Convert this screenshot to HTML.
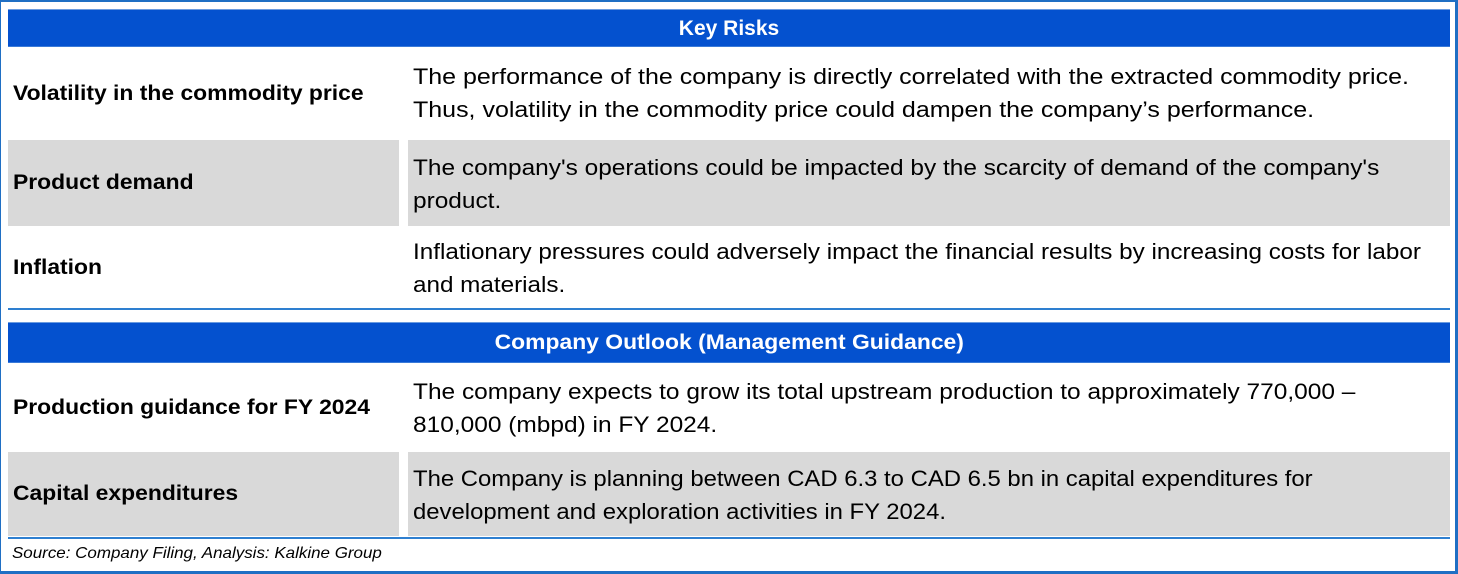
<!DOCTYPE html>
<html><head><meta charset="utf-8"><style>
body{margin:0;width:1458px;height:574px;background:#fff;position:relative;overflow:hidden;font-family:"Liberation Sans",Arial,sans-serif;color:#000}
div{position:absolute;box-sizing:border-box}
.hdr{left:8px;width:1442px;background:#0451cf;color:#fff;font-weight:bold;font-size:21px;text-align:center;border-top:1px solid #6a9be0;border-bottom:1px solid #3a7ad8}
.lab{left:13px;font-weight:bold;font-size:21px;white-space:nowrap;transform:scaleX(1.09);transform-origin:left top}
.txt{left:413px;font-size:22px;line-height:33px;white-space:nowrap;transform:scaleX(1.136);transform-origin:left top}
.g{background:#d9d9d9}
.line{left:8px;width:1442px;height:2px;background:#2e7fd0}
</style></head><body>
<div style="left:0;top:0;width:1458px;height:574px;border:1px solid #1f6fc4;border-right:3px solid #1f6fc4;border-bottom:3px solid #1f6fc4;border-top:2px solid #1f6fc4"></div>

<div class="hdr" style="top:9px;height:38px;line-height:37px">Key Risks</div>

<div class="lab" style="top:82px">Volatility in the commodity price</div>
<div class="txt" style="top:60px">The performance of the company is directly correlated with the extracted commodity price.<br>Thus, volatility in the commodity price could dampen the company’s performance.</div>

<div class="g" style="left:8px;top:140px;width:391px;height:86px"></div>
<div class="g" style="left:408px;top:140px;width:1042px;height:86px"></div>
<div class="lab" style="top:171px">Product demand</div>
<div class="txt" style="top:151px;transform:scaleX(1.11)">The company's operations could be impacted by the scarcity of demand of the company's<br>product.</div>

<div class="lab" style="top:256px">Inflation</div>
<div class="txt" style="top:235px;transform:scaleX(1.102)">Inflationary pressures could adversely impact the financial results by increasing costs for labor<br>and materials.</div>

<div class="line" style="top:308px"></div>

<div class="hdr" style="top:322px;height:41px;line-height:40px"><span style="display:inline-block;transform:scaleX(1.09)">Company Outlook (Management Guidance)</span></div>

<div class="lab" style="top:396px">Production guidance for FY 2024</div>
<div class="txt" style="top:375px;transform:scaleX(1.112)">The company expects to grow its total upstream production to approximately 770,000 –<br>810,000 (mbpd) in FY 2024.</div>

<div class="g" style="left:8px;top:452px;width:391px;height:84px"></div>
<div class="g" style="left:408px;top:452px;width:1042px;height:84px"></div>
<div class="lab" style="top:482px">Capital expenditures</div>
<div class="txt" style="top:462px;transform:scaleX(1.085)">The Company is planning between CAD 6.3 to CAD 6.5 bn in capital expenditures for<br>development and exploration activities in FY 2024.</div>

<div class="line" style="top:537px"></div>
<div style="left:12px;top:545px;font-size:16px;font-style:italic;white-space:nowrap;transform:scaleX(1.06);transform-origin:left top">Source: Company Filing, Analysis: Kalkine Group</div>
</body></html>
